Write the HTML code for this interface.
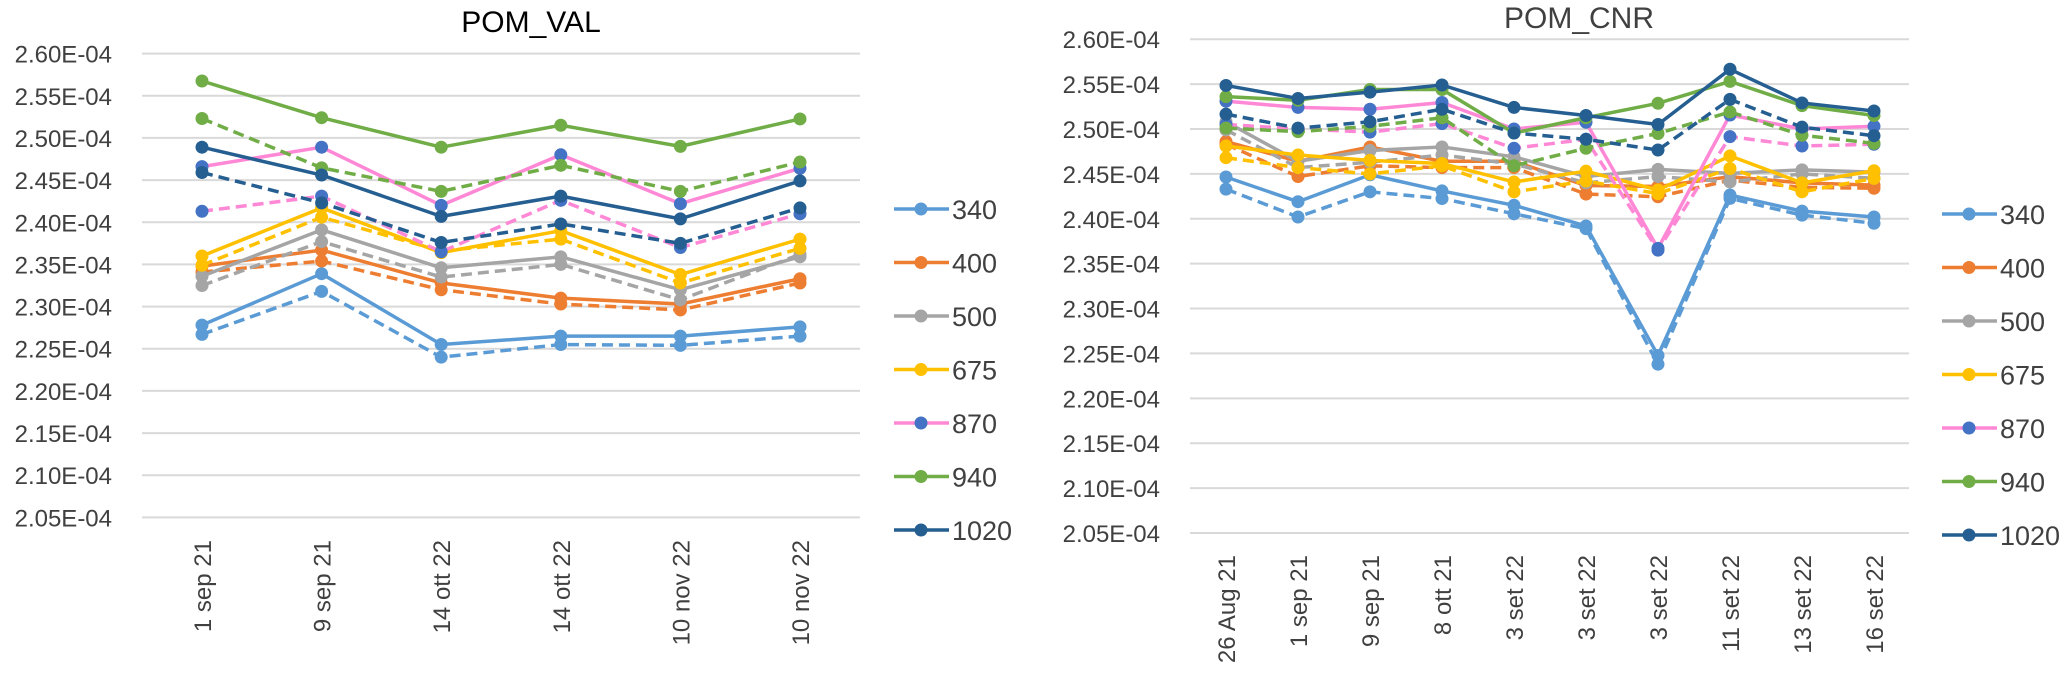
<!DOCTYPE html>
<html><head><meta charset="utf-8"><style>
html,body{margin:0;padding:0;background:#fff;}
svg{display:block;font-family:"Liberation Sans",sans-serif;}
</style></head><body>
<svg id="root" width="2066" height="683" viewBox="0 0 2066 683">
<g id="left"></g>
<g id="right"></g>
</svg>
<script>
const NS='http://www.w3.org/2000/svg';
const seriesNames=['340','400','500','675','870','940','1020'];
const lineColors=['#5B9BD5','#ED7D31','#A5A5A5','#FFC000','#FF88D6','#70AD47','#255E91'];
const markerColors=['#5B9BD5','#ED7D31','#A5A5A5','#FFC000','#4472C4','#70AD47','#255E91'];
const yTicks=['2.60E-04','2.55E-04','2.50E-04','2.45E-04','2.40E-04','2.35E-04','2.30E-04','2.25E-04','2.20E-04','2.15E-04','2.10E-04','2.05E-04'];
const valCategories=['1 sep 21','9 sep 21','14 ott 22','14 ott 22','10 nov 22','10 nov 22'];
const valSolid=[
[2.278,2.339,2.255,2.265,2.265,2.276],
[2.348,2.367,2.328,2.310,2.303,2.333],
[2.336,2.391,2.346,2.359,2.320,2.359],
[2.360,2.417,2.364,2.390,2.338,2.380],
[2.466,2.489,2.420,2.480,2.422,2.464],
[2.5675,2.524,2.489,2.515,2.490,2.5225],
[2.489,2.456,2.407,2.431,2.404,2.449]];
const valDashed=[
[2.267,2.318,2.240,2.255,2.254,2.265],
[2.341,2.354,2.320,2.303,2.296,2.328],
[2.325,2.377,2.335,2.350,2.308,2.362],
[2.349,2.406,2.366,2.380,2.328,2.369],
[2.413,2.431,2.365,2.426,2.370,2.410],
[2.523,2.4645,2.4366,2.4675,2.4366,2.4714],
[2.459,2.423,2.376,2.398,2.375,2.417]];
const cnrCategories=['26 Aug 21','1 sep 21','9 sep 21','8 ott 21','3 set 22','3 set 22','3 set 22','11 set 22','13 set 22','16 set 22'];
const cnrSolid=[
[2.4465,2.419,2.449,2.431,2.415,2.392,2.2477,2.4264,2.4085,2.402],
[2.486,2.464,2.480,2.464,2.464,2.437,2.436,2.4468,2.440,2.4375],
[2.508,2.464,2.476,2.480,2.469,2.447,2.455,2.4506,2.4545,2.452],
[2.481,2.471,2.465,2.4615,2.441,2.453,2.432,2.470,2.440,2.4535],
[2.531,2.524,2.522,2.5295,2.500,2.5075,2.367,2.5156,2.500,2.503],
[2.536,2.532,2.544,2.544,2.4955,2.5125,2.5286,2.553,2.526,2.515],
[2.5485,2.534,2.541,2.549,2.524,2.515,2.505,2.5665,2.529,2.520]];
const cnrDashed=[
[2.433,2.402,2.430,2.4225,2.4055,2.389,2.238,2.4227,2.404,2.395],
[2.483,2.447,2.459,2.457,2.457,2.4275,2.4245,2.443,2.435,2.434],
[2.499,2.457,2.463,2.471,2.461,2.440,2.447,2.441,2.450,2.445],
[2.468,2.457,2.450,2.459,2.430,2.442,2.428,2.456,2.430,2.445],
[2.505,2.500,2.4965,2.506,2.4785,2.4885,2.365,2.4915,2.481,2.483],
[2.501,2.497,2.503,2.5125,2.459,2.4785,2.495,2.519,2.493,2.484],
[2.5165,2.501,2.508,2.522,2.4955,2.4885,2.4766,2.533,2.502,2.4925]];

function mk(tag,attrs,parent){const e=document.createElementNS(NS,tag);for(const k in attrs)e.setAttribute(k,attrs[k]);parent.appendChild(e);return e;}

function drawChart(g,o,cats,solid,dashed){
  const y=v=>o.y0+(2.60-v)/0.55*(o.y1-o.y0);
  const x=i=>o.cx0+i*o.step;
  const t=mk('text',{x:o.titleX,y:o.titleY,'text-anchor':'middle','font-size':30,fill:o.titleColor},g);
  t.textContent=o.title;
  
  
  yTicks.forEach((lab,i)=>{
    const v=2.60-0.05*i;
    const gl=mk('line',{x1:o.gx0,x2:o.gx1,y1:y(v),y2:y(v),stroke:'#D9D9D9','stroke-width':2},g);
    
    
    const tl=mk('text',{x:o.labelX,y:y(v)+9,'text-anchor':'end','font-size':24,fill:'#404040'},g);
    tl.textContent=lab;
    
    
  });
  cats.forEach((c,i)=>{
    const tx=mk('text',{transform:`translate(${x(i)+9},${o.xlabY}) rotate(-90)`,'text-anchor':'end','font-size':24,fill:'#404040'},g);
    tx.textContent=c;
    
    
  });
  for(let s=0;s<seriesNames.length;s++){
    [[dashed[s],true],[solid[s],false]].forEach(([vals,isD])=>{
      const sg=mk('g',{},g);
      
      
      const pts=vals.map((v,i)=>`${x(i)},${y(v)}`).join(' ');
      const a={points:pts,fill:'none',stroke:lineColors[s],'stroke-width':isD?3.5:3.5,'stroke-linejoin':'round'};
      if(isD)a['stroke-dasharray']='11 6';
      const pl=mk('polyline',a,sg);
      
      
      vals.forEach((v,i)=>{
        const c=mk('circle',{cx:x(i),cy:y(v),r:6.5,fill:markerColors[s]},sg);
        
        
      });
    });
  }
  seriesNames.forEach((n,s)=>{
    const ly=o.legY0+s*o.legStep;
    const lg=mk('g',{},g);
    
    
    mk('line',{x1:o.legX,x2:o.legX+55,y1:ly,y2:ly,stroke:lineColors[s],'stroke-width':3.5},lg);
    mk('circle',{cx:o.legX+27,cy:ly,r:6.5,fill:markerColors[s]},lg);
    const lt=mk('text',{x:o.legX+58,y:ly+10,'font-size':27,fill:'#404040'},lg);
    lt.textContent=n;
  });
}
drawChart(document.getElementById('left'),{title:'POM_VAL',titleX:531,titleY:32,titleColor:'#000',y0:53.6,y1:517.4,cx0:202,step:119.6,gx0:142,gx1:860,labelX:112,xlabY:540,legX:894,legY0:209,legStep:53.5},valCategories,valSolid,valDashed);
drawChart(document.getElementById('right'),{title:'POM_CNR',titleX:1579,titleY:28,titleColor:'#404040',y0:39.2,y1:533,cx0:1226,step:72,gx0:1190,gx1:1909,labelX:1160,xlabY:555,legX:1942,legY0:214,legStep:53.5},cnrCategories,cnrSolid,cnrDashed);
</script>
</body></html>
